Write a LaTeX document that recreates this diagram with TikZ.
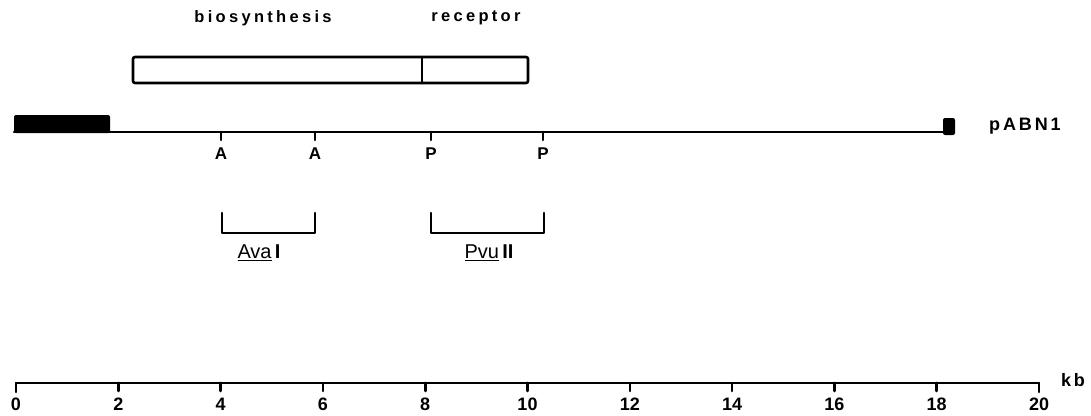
\documentclass[tikz,border=0pt]{standalone}
\usepackage{fontspec}
\setmainfont{Liberation Sans}
\newfontfamily\lbl[LetterSpace=20]{Liberation Sans}
\newfontfamily\lblb[LetterSpace=16]{Liberation Sans}
\begin{document}
\begin{tikzpicture}[x=1pt,y=-1pt,
  ln/.style={line width=2.6pt,line cap=round,line join=round},
  spaced/.style={font=\lbl\bfseries\fontsize{16.5}{18}\selectfont,inner sep=0pt},
  site/.style={font=\bfseries\fontsize{17}{19}\selectfont,inner sep=0pt},
  num/.style={font=\bfseries\fontsize{18}{20}\selectfont,inner sep=0pt,anchor=north},
  enz/.style={font=\fontsize{20}{22}\selectfont,inner sep=0pt}]
\useasboundingbox (0,0) rectangle (1091,415);
% header labels
\node[spaced] (bio) at (263,18) {biosynthesis};
\node[spaced] (rec) at (476,18) {receptor};
% gene boxes
\draw[ln,rounded corners=2pt] (133,57) rectangle (528,83);
\draw[ln] (422,57) -- (422,83);
% plasmid line
\coordinate (L0) at (14,132);
\coordinate (L1) at (948,132);
\draw[ln] (L0) -- (L1);
\fill[rounded corners=2pt] (14,115) rectangle (110,133);
\fill[rounded corners=2pt] (943,118) rectangle (955,135);
\node[font=\lblb\bfseries\fontsize{18}{20}\selectfont,inner sep=0pt,anchor=west] (pabn) at (989,126) {pABN1};
% restriction sites
\foreach \x/\t/\n in {221/A/a1,315/A/a2,431/P/p1,543/P/p2}{
  \draw[ln] (\x,132) -- (\x,140);
  \node[site] (\n) at (\x,154) {\t};
}
% fragments
\draw[ln] (222,213) -- (222,233) -- (315,233) -- (315,213);
\draw[ln] (431,213) -- (431,233) -- (544,233) -- (544,213);
\node[enz] (ava) at (259,253) {\underline{Ava}\,\textbf{I}};
\node[enz] (pvu) at (489,253) {\underline{Pvu}\,\textbf{II}};
% scale
\coordinate (S0) at (16,383);
\coordinate (S1) at (1039,383);
\draw[ln] (16,392) -- (S0) -- (S1) -- (1039,392);
\foreach \k in {0,2,...,20}{
  \pgfmathsetmacro{\xx}{16+51.15*\k}
  \draw[ln] (\xx,383) -- (\xx,391);
  \node[num] (n\k) at (\xx,397.5) {\k};
}
\node[font=\lblb\bfseries\fontsize{18}{20}\selectfont,inner sep=0pt] (kb) at (1073,380) {kb};
\end{tikzpicture}
\end{document}
